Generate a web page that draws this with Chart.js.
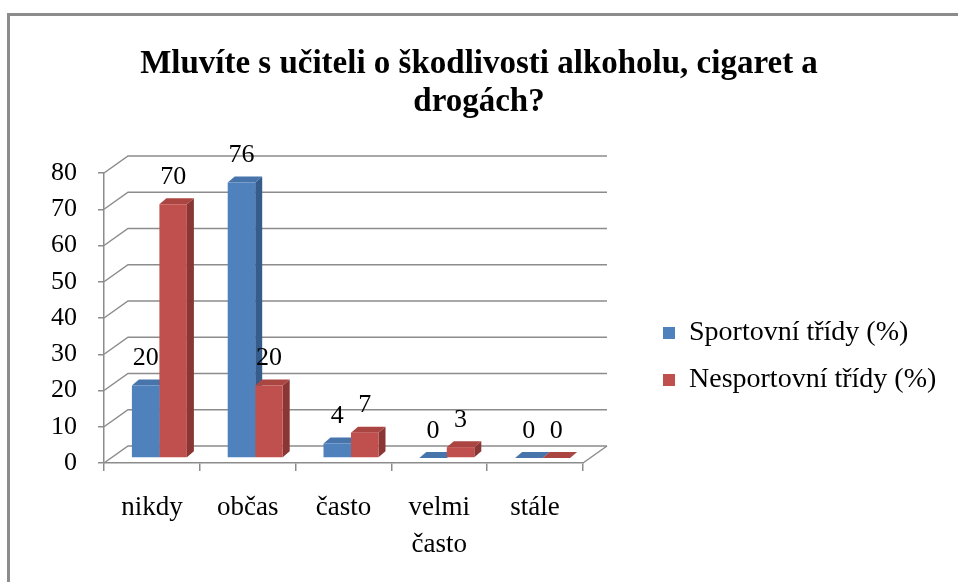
<!DOCTYPE html>
<html lang="cs">
<head>
<meta charset="utf-8">
<title>Mluvíte s učiteli o škodlivosti alkoholu, cigaret a drogách?</title>
<script src="https://cdn.jsdelivr.net/npm/chart.js@4.4.1/dist/chart.umd.min.js"></script>
<style>
  html, body { margin: 0; padding: 0; background: #fff; }
  canvas { display: block; }
</style>
</head>
<body>
<canvas id="graf" width="958" height="582"></canvas>
<script>
// popisky kategorii (osa X)
const kategorie = ['nikdy', 'občas', 'často', ['velmi', 'často'], 'stále'];
// hodnoty v procentech
const sportovni = [20, 76, 4, 0, 0];
const nesportovni = [70, 20, 7, 3, 0];
// osa Y
const osaMin = 0;
const osaMax = 80;
const osaKrok = 10;

const titulek = ['Mluvíte s učiteli o škodlivosti alkoholu, cigaret a', 'drogách?'];
const nazvyRad = ['Sportovní třídy (%)', 'Nesportovní třídy (%)'];

const PISMO = "'Liberation Serif', 'Times New Roman', serif";
const MRIZKA = '#8c8c8c';

// 3D posuny
const HLOUBKA_X = 24, HLOUBKA_Y = -17;   // zadni stena
const POSUN_X = 7.5, POSUN_Y = -5;       // sloupce stoji uprostred podlahy
const SLOUPEC_X = 7, SLOUPEC_Y = -6;     // hloubka sloupce
const LEGENDA_PAD = 19;

const barvy = [
  {predni: '#4f81bd', horni: '#4674ab', bok: '#365c8c'},
  {predni: '#c0504d', horni: '#ab4542', bok: '#8a3634'}
];

function ctyruhelnik(ctx, body, barva) {
  ctx.fillStyle = barva;
  ctx.beginPath();
  ctx.moveTo(body[0][0], body[0][1]);
  for (let k = 1; k < body.length; k++) ctx.lineTo(body[k][0], body[k][1]);
  ctx.closePath();
  ctx.fill();
}

// plugin ktery kresli "3D" steny, boky sloupcu a popisky
const prostor3d = {
  id: 'prostor3d',
  beforeDraw(chart) {
    const ctx = chart.ctx;
    ctx.save();
    ctx.fillStyle = '#fff';
    ctx.fillRect(0, 0, chart.width, chart.height);
    ctx.strokeStyle = '#8c8c8c';
    ctx.lineWidth = 3;
    ctx.strokeRect(8.5, 14.5, chart.width + 20, chart.height + 20);
    ctx.restore();
  },
  afterLayout(chart) {
    // legenda vpravo vedle grafu
    const lg = chart.legend, ca = chart.chartArea;
    const w = lg.width, h = lg.height;
    lg.left = ca.right + 80 - LEGENDA_PAD;
    lg.right = lg.left + w;
    lg.top = ca.top + 127;
    lg.bottom = lg.top + h;
  },
  beforeDatasetsDraw(chart) {
    const {ctx, chartArea, scales} = chart;
    const L = chartArea.left, R = chartArea.right, B = chartArea.bottom;
    ctx.save();
    ctx.strokeStyle = MRIZKA;
    ctx.lineWidth = 1.5;
    scales.y.ticks.forEach(t => {
      const y = scales.y.getPixelForValue(t.value);
      ctx.beginPath();
      ctx.moveTo(L, y);
      ctx.lineTo(L + HLOUBKA_X, y + HLOUBKA_Y);
      ctx.lineTo(R + HLOUBKA_X, y + HLOUBKA_Y);
      ctx.stroke();
    });
    // prava hrana podlahy
    ctx.beginPath();
    ctx.moveTo(R, B);
    ctx.lineTo(R + HLOUBKA_X, B + HLOUBKA_Y);
    ctx.stroke();
    ctx.restore();

    // sloupce jsou posunute dozadu, restore az v afterDatasetsDraw
    ctx.save();
    ctx.translate(POSUN_X, POSUN_Y);
    chart.data.datasets.forEach((ds, i) => {
      chart.getDatasetMeta(i).data.forEach(bar => {
        const l = bar.x - bar.width / 2, r = bar.x + bar.width / 2;
        ctyruhelnik(ctx, [[r, bar.y], [r + SLOUPEC_X, bar.y + SLOUPEC_Y], [r + SLOUPEC_X, bar.base + SLOUPEC_Y], [r, bar.base]], barvy[i].bok);
        ctyruhelnik(ctx, [[l, bar.y], [r, bar.y], [r + SLOUPEC_X, bar.y + SLOUPEC_Y], [l + SLOUPEC_X, bar.y + SLOUPEC_Y]], barvy[i].horni);
      });
    });
  },
  afterDatasetsDraw(chart) {
    const ctx = chart.ctx;
    ctx.restore();
    ctx.save();
    ctx.font = '26px ' + PISMO;
    ctx.fillStyle = '#000';
    ctx.textAlign = 'center';
    ctx.textBaseline = 'middle';
    chart.data.datasets.forEach((ds, i) => {
      chart.getDatasetMeta(i).data.forEach((bar, j) => {
        ctx.fillText(String(ds.data[j]), bar.x + POSUN_X, bar.y + POSUN_Y - 27);
      });
    });
    ctx.restore();
  }
};

const data = {
  labels: kategorie,
  datasets: [
    {
      label: nazvyRad[0],
      data: sportovni,
      backgroundColor: barvy[0].predni,
      borderWidth: 0,
      categoryPercentage: 0.574,
      barPercentage: 1
    },
    {
      label: nazvyRad[1],
      data: nesportovni,
      backgroundColor: barvy[1].predni,
      borderWidth: 0,
      categoryPercentage: 0.574,
      barPercentage: 1
    }
  ]
};

const config = {
  type: 'bar',
  data,
  options: {
    responsive: false,
    animation: false,
    devicePixelRatio: 1,
    layout: { padding: 0 },
    datasets: { bar: { clip: false } },
    plugins: {
      title: {
        display: true,
        text: titulek,
        color: '#000',
        font: { family: PISMO, size: 33, weight: 'bold', lineHeight: 38 / 33 },
        padding: { top: 45, bottom: 52 }
      },
      legend: {
        position: 'chartArea',
        align: 'start',
        labels: {
          boxWidth: 12,
          boxHeight: 12,
          padding: LEGENDA_PAD,
          color: '#000',
          font: { family: PISMO, size: 28 }
        }
      },
      tooltip: { enabled: false }
    },
    scales: {
      x: {
        grid: { drawOnChartArea: false, drawTicks: true, tickLength: 8, color: MRIZKA, lineWidth: 1.5, offset: true },
        border: { display: true, color: MRIZKA, width: 1.5 },
        ticks: { color: '#000', font: { family: PISMO, size: 27, lineHeight: 37 / 27 }, padding: 18.5, maxRotation: 0, autoSkip: false },
        afterFit(s) { s.height = 119; }
      },
      y: {
        min: osaMin,
        max: osaMax,
        grid: { drawOnChartArea: false, tickLength: 6, color: MRIZKA, lineWidth: 1.5 },
        border: { color: MRIZKA, width: 1.5 },
        ticks: { stepSize: osaKrok, color: '#000', font: { family: PISMO, size: 26 }, padding: 21 },
        afterFit(s) { s.width = 104; }
      },
      // prazdna osa vpravo jen drzi misto pro legendu
      misto: {
        type: 'linear',
        position: 'right',
        display: true,
        grid: { display: false },
        border: { display: false },
        ticks: { display: false },
        afterFit(s) { s.width = 375; }
      }
    }
  },
  plugins: [prostor3d]
};

const graf = new Chart(document.getElementById('graf'), config);
</script>
</body>
</html>
